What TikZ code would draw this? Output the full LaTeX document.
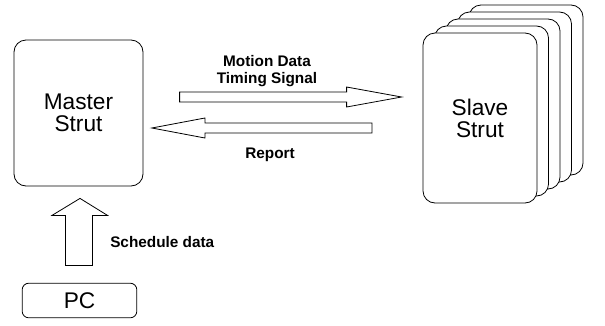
\documentclass[tikz,border=0pt]{standalone}
\usepackage{fontspec}
\setmainfont{Liberation Sans}
\usetikzlibrary{positioning, calc}
\tikzset{
  % Box styles
  strutbox/.style={rectangle, rounded corners=9pt, draw=black, fill=white, line width=0.6pt, minimum width=96.75pt, minimum height=109.5pt, font=\fontsize{17}{16.5}\selectfont, align=center, inner sep=0pt},
  slavebox/.style={strutbox, minimum width=85.5pt, minimum height=127.5pt},
  pcbox/.style={rectangle, rounded corners=5pt, draw=black, line width=0.6pt, minimum width=86pt, minimum height=26pt, font=\fontsize{17}{16.5}\selectfont, inner sep=0pt},
  % Label and arrow styles
  flowlabel/.style={font=\fontsize{11.5}{11.5}\selectfont\bfseries, align=center, inner sep=0pt},
  blockarrow/.style={draw=black, fill=white, line width=0.6pt, line join=miter}
}

\begin{document}
\begin{tikzpicture}[x=0.75pt, y=-0.75pt]
  \useasboundingbox (0,0) rectangle (605,325);

  % Master side
  \node[strutbox] (master) at (78.5,113) {Master\\Strut};
  \node[pcbox] (pc) at (79.5,300.5) {PC};

  % Stack of slave struts, back to front
  \foreach \i in {4,3,2,1}
    \node[slavebox] (slave\i) at ($(480,118)+(\i*11.5,-\i*7)$) {};
  \node[slavebox] (slave) at (480,118) {Slave\\Strut};

  % Schedule data arrow (PC to master)
  \coordinate (schedtip) at ($(master.south)+(1.5,12)$);
  \draw[blockarrow] (schedtip) -- ++(27.5,17) -- ++(-15,0) -- ++(0,50)
    -- ++(-27,0) -- ++(0,-50) -- ++(-13.5,0) -- cycle;
  \node[flowlabel, anchor=west] (schedlabel) at (110,242) {Schedule data};

  % Motion data arrow (master to slave)
  \coordinate (motiontip) at ($(slave.west)+(-21,-21)$);
  \draw[blockarrow] (motiontip) -- ++(-55,-10) -- ++(0,5) -- ++(-167,0)
    -- ++(0,10) -- ++(167,0) -- ++(0,5) -- cycle;
  \node[flowlabel] (motionlabel) at (267,71) {Motion Data\\[1pt]Timing Signal};

  % Report arrow (slave to master)
  \coordinate (reporttip) at ($(master.east)+(8.5,15)$);
  \draw[blockarrow] (reporttip) -- ++(53,-10) -- ++(0,5) -- ++(167,0)
    -- ++(0,10) -- ++(-167,0) -- ++(0,5) -- cycle;
  \node[flowlabel] (reportlabel) at (270,155) {Report};
\end{tikzpicture}
\end{document}
